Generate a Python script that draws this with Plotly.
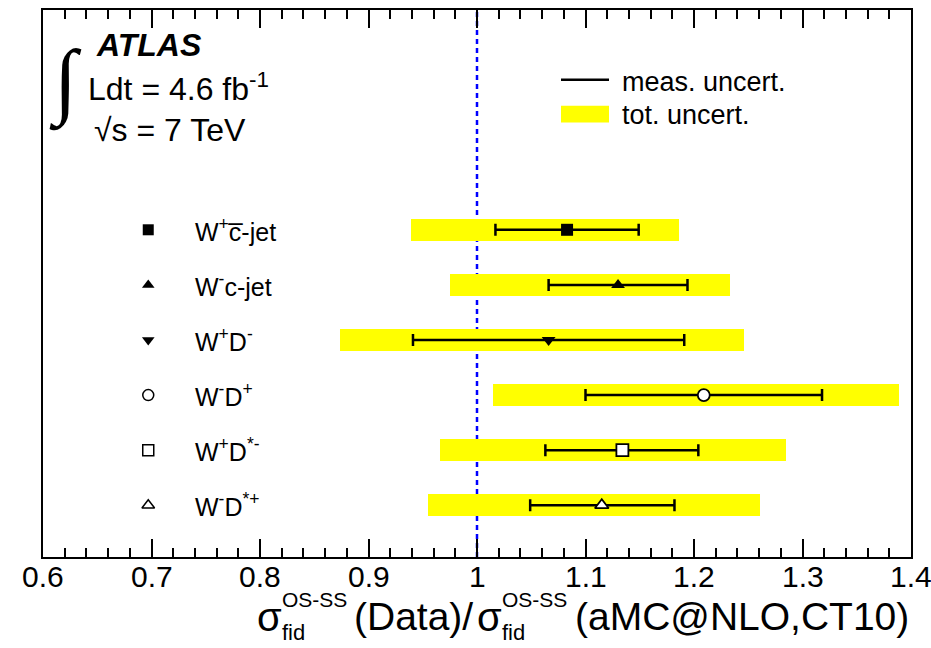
import plotly.graph_objects as go

# ---------------- data ----------------
labels = ["W<sup>+</sup>c\u0305-jet", "W<sup>-</sup>c-jet", "W<sup>+</sup>D<sup>-</sup>",
          "W<sup>-</sup>D<sup>+</sup>", "W<sup>+</sup>D<sup>*-</sup>", "W<sup>-</sup>D<sup>*+</sup>"]
rows = [6, 5, 4, 3, 2, 1]
central = [1.083, 1.130, 1.066, 1.209, 1.134, 1.115]
meas_lo = [1.017, 1.066, 0.941, 1.100, 1.063, 1.049]
meas_hi = [1.149, 1.194, 1.191, 1.318, 1.204, 1.182]
tot_lo = [0.939, 0.975, 0.874, 1.015, 0.966, 0.955]
tot_hi = [1.186, 1.233, 1.246, 1.389, 1.285, 1.261]
symbols = ["square", "triangle-up", "triangle-down", "circle", "square", "triangle-up"]
filled = [True, True, True, False, False, False]
tick_vals = [0.6, 0.7, 0.8, 0.9, 1.0, 1.1, 1.2, 1.3, 1.4]
tick_text = ["0.6", "0.7", "0.8", "0.9", "1", "1.1", "1.2", "1.3", "1.4"]
ref_value = 1.0
key_x = 0.697

# ---------------- layout helpers ----------------
W, H = 931, 648
ML, MR, MT, MB = 43, 20, 8, 91
PW, PH = W - ML - MR, H - MT - MB
FONT = "Liberation Sans, Arial, Helvetica, sans-serif"


def px(x):
    return (x - ML) / PW


def py(y):
    return (H - MB - y) / PH


fig = go.Figure()

# total uncertainty bands
fig.add_trace(go.Bar(
    orientation="h", y=rows, base=tot_lo,
    x=[h - l for h, l in zip(tot_hi, tot_lo)],
    width=0.4, marker=dict(color="#ffff00", line=dict(width=0)),
    showlegend=False, hoverinfo="skip"))

# measurement uncertainty + central values
fig.add_trace(go.Scatter(
    x=central, y=rows, mode="markers",
    error_x=dict(type="data", symmetric=False,
                 array=[h - c for h, c in zip(meas_hi, central)],
                 arrayminus=[c - l for c, l in zip(central, meas_lo)],
                 thickness=2.5, width=6, color="black"),
    marker=dict(symbol=symbols, size=12,
                color=["black" if f else "white" for f in filled],
                line=dict(color="black", width=[0 if f else 1.8 for f in filled])),
    showlegend=False))

# key markers next to labels
fig.add_trace(go.Scatter(
    x=[key_x] * len(rows), y=rows, mode="markers",
    marker=dict(symbol=symbols, size=11,
                color=["black" if f else "white" for f in filled],
                line=dict(color="black", width=[0 if f else 1.5 for f in filled])),
    showlegend=False, cliponaxis=False))

ann = []
for lab, r in zip(labels, rows):
    ann.append(dict(x=px(193), xref="paper", y=r, yref="y", text=lab, showarrow=False,
                    xanchor="left", yanchor="middle", font=dict(size=25, color="black", family=FONT)))

# tick labels (drawn on the x scale)
for v, t in zip(tick_vals, tick_text):
    ann.append(dict(x=v, xref="x", y=py(577), yref="paper", text=t, showarrow=False,
                    xanchor="center", yanchor="middle", borderpad=0,
                    font=dict(size=30, color="black", family=FONT)))

# ATLAS block
ann.append(dict(x=px(94), y=py(43.5), xref="paper", yref="paper", text="<b><i>ATLAS</i></b>",
                showarrow=False, xanchor="left", yanchor="middle", font=dict(size=32, family=FONT, color="black")))
ann.append(dict(x=px(86), y=py(85), xref="paper", yref="paper", text="Ldt = 4.6 fb<sup>-1</sup>",
                showarrow=False, xanchor="left", yanchor="middle", font=dict(size=32, family=FONT, color="black")))
ann.append(dict(x=px(92), y=py(128), xref="paper", yref="paper", text="\u221as = 7 TeV",
                showarrow=False, xanchor="left", yanchor="middle", font=dict(size=32, family=FONT, color="black")))
ann.append(dict(x=px(65), y=py(80), xref="paper", yref="paper", text="\u222b",
                showarrow=False, xanchor="center", yanchor="middle",
                font=dict(size=84, family="Liberation Serif", color="black")))

# legend
fig.add_shape(type="line", xref="paper", yref="paper", x0=px(561), x1=px(609), y0=py(78), y1=py(78),
              line=dict(color="black", width=2.5))
fig.add_shape(type="rect", xref="paper", yref="paper", x0=px(561), x1=px(609), y0=py(104), y1=py(121),
              line=dict(width=0), fillcolor="#ffff00")
ann.append(dict(x=px(620), y=py(80), xref="paper", yref="paper", text="meas. uncert.",
                showarrow=False, xanchor="left", yanchor="middle", font=dict(size=27, family=FONT, color="black")))
ann.append(dict(x=px(620), y=py(113), xref="paper", yref="paper", text="tot. uncert.",
                showarrow=False, xanchor="left", yanchor="middle", font=dict(size=27, family=FONT, color="black")))


# x-axis title built from pieces
def piece(text, x, y, size, anchor="left"):
    ann.append(dict(x=px(x), y=py(y), xref="paper", yref="paper", text=text, showarrow=False,
                    xanchor=anchor, yanchor="middle", borderpad=0,
                    font=dict(size=size, family=FONT, color="black")))


piece("\u03c3", 256, 617, 40)
piece("OS-SS", 281, 600, 21)
piece("fid", 281, 633, 22)
piece("(Data)/", 413, 617, 39, anchor="center")
piece("\u03c3", 476, 617, 40)
piece("OS-SS", 501, 600, 21)
piece("fid", 501, 633, 22)
piece("(aMC@NLO,CT10)", 910, 617, 39, anchor="right")

# reference line at 1
fig.add_shape(type="line", xref="x", yref="paper", x0=ref_value, x1=ref_value, y0=0, y1=1,
              line=dict(color="#0000ff", width=2.5, dash="5px,4px"), layer="below")

fig.update_layout(
    width=W, height=H, margin=dict(l=ML, r=MR, t=MT, b=MB),
    paper_bgcolor="white", plot_bgcolor="white",
    annotations=ann, barmode="overlay", bargap=0,
    font=dict(family=FONT, color="black"),
    xaxis=dict(range=[0.6, 1.4], tickmode="array", tickvals=tick_vals, showticklabels=False,
               ticks="inside", ticklen=18, tickwidth=1.5, tickcolor="black",
               minor=dict(dtick=0.02, tick0=0.6, ticks="inside", ticklen=9, tickwidth=1.5, tickcolor="black"),
               showline=True, linewidth=2, linecolor="black", mirror="ticks",
               showgrid=False, zeroline=False),
    yaxis=dict(range=[0.06, 9.99], showline=True, linewidth=2, linecolor="black", mirror=True,
               showticklabels=False, ticks="", showgrid=False, zeroline=False),
)

fig.write_html("out.html")
